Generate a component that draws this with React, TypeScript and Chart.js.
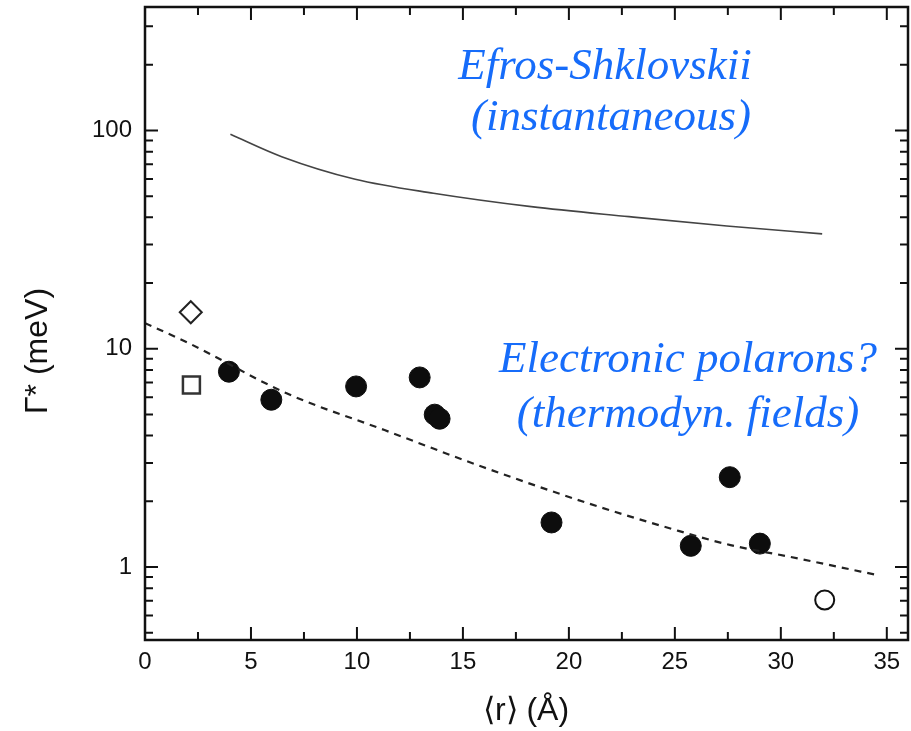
import React, { useEffect, useRef } from 'react';
import { Chart, registerables } from 'chart.js';

Chart.register(...registerables);

// Mean separation <r> (Å) and Γ* (meV)
const filledR = [3.96, 5.96, 9.96, 12.96, 13.67, 13.9, 19.18, 25.75, 27.59, 29.01];
const filledG = [7.85, 5.84, 6.72, 7.39, 4.99, 4.78, 1.6, 1.25, 2.58, 1.28];
const diamondR = [2.16];
const diamondG = [14.7];
const squareR = [2.19];
const squareG = [6.82];
const openR = [32.07];
const openG = [0.706];

// Efros-Shklovskii (instantaneous) estimate
const esR = [4.03, 6.45, 9.92, 13.61, 18.22, 22.84, 27.45, 31.95];
const esG = [96.1, 75.9, 59.8, 51.6, 44.8, 40.3, 36.5, 33.6];

// Electronic polaron (thermodynamic fields) estimate
const polR = [0, 2.07, 6.68, 11.3, 15.91, 20.9, 24.9, 27.63, 30.3, 32.33, 34.52];
const polG = [13.1, 10.6, 6.25, 4.24, 2.88, 1.96, 1.49, 1.26, 1.12, 1.02, 0.92];

// Axis ticks
const xMajorTicks = [0, 5, 10, 15, 20, 25, 30, 35];
const xMinorTicks = [2.5, 7.5, 12.5, 17.5, 22.5, 27.5, 32.5];
const yMajorTicks = [1, 10, 100];
const yMinorTicks = [0.5, 0.6, 0.7, 0.8, 0.9, 2, 3, 4, 5, 6, 7, 8, 9, 20, 30, 40, 50, 60, 70, 80, 90, 200, 300];

const X_MIN = 0;
const X_MAX = 36;
const Y_MIN = 0.463;
const Y_MAX = 368;

const BLUE = 'rgb(22,108,250)';
const SANS = '"Liberation Sans", Arial, Helvetica, sans-serif';
const SERIF = '"Liberation Serif", "Times New Roman", serif';

const pts = (xs: number[], ys: number[]) => xs.map((x, i) => ({ x, y: ys[i] }));

const noPad = (s: any) => {
  s.paddingLeft = 0;
  s.paddingRight = 0;
  s.paddingTop = 0;
  s.paddingBottom = 0;
};

const framePlugin = {
  id: 'frameAndLabels',
  afterDraw(chart: any) {
    const { ctx, chartArea } = chart;
    const { left, right, top, bottom } = chartArea;
    const xs = chart.scales.x;
    const ys = chart.scales.y;
    ctx.save();
    ctx.strokeStyle = '#111';
    ctx.lineWidth = 2.5;
    ctx.strokeRect(left, top, right - left, bottom - top);

    ctx.lineWidth = 2;
    const xTick = (v: number, len: number) => {
      const p = xs.getPixelForValue(v);
      ctx.beginPath();
      ctx.moveTo(p, bottom);
      ctx.lineTo(p, bottom - len);
      ctx.moveTo(p, top);
      ctx.lineTo(p, top + len);
      ctx.stroke();
    };
    const yTick = (v: number, len: number) => {
      const p = ys.getPixelForValue(v);
      ctx.beginPath();
      ctx.moveTo(left, p);
      ctx.lineTo(left + len, p);
      ctx.moveTo(right, p);
      ctx.lineTo(right - len, p);
      ctx.stroke();
    };
    xMajorTicks.forEach((v) => xTick(v, 13));
    xMinorTicks.forEach((v) => xTick(v, 8));
    yMajorTicks.forEach((v) => yTick(v, 13));
    yMinorTicks.forEach((v) => yTick(v, 8));

    // axis titles
    ctx.fillStyle = '#111';
    ctx.textAlign = 'center';
    ctx.textBaseline = 'middle';
    ctx.font = `32px ${SANS}`;
    ctx.fillText('\u27E8r\u27E9 (\u00C5)', 526, 711);
    ctx.save();
    ctx.translate(38, 351);
    ctx.rotate(-Math.PI / 2);
    ctx.fillText('\u0393* (meV)', 0, 0);
    ctx.restore();

    // annotations
    ctx.fillStyle = BLUE;
    ctx.textBaseline = 'alphabetic';
    ctx.font = `italic 45px ${SERIF}`;
    ctx.fillText('Efros-Shklovskii', 605, 79);
    ctx.fillText('(instantaneous)', 611, 130);
    ctx.fillText('Electronic polarons?', 688, 372);
    ctx.fillText('(thermodyn. fields)', 688, 427);
    ctx.restore();
  },
};

export default function App() {
  const ref = useRef<HTMLCanvasElement | null>(null);

  useEffect(() => {
    if (!ref.current) return;
    const chart = new Chart(ref.current, {
      type: 'scatter',
      data: {
        datasets: [
          {
            label: 'Efros-Shklovskii',
            data: pts(esR, esG),
            showLine: true,
            borderColor: '#444',
            borderWidth: 1.6,
            pointRadius: 0,
            cubicInterpolationMode: 'monotone',
          },
          {
            label: 'Electronic polarons',
            data: pts(polR, polG),
            showLine: true,
            borderColor: '#222',
            borderWidth: 2.2,
            borderDash: [7, 6],
            pointRadius: 0,
            cubicInterpolationMode: 'monotone',
          },
          {
            label: 'filled',
            data: pts(filledR, filledG),
            pointStyle: 'circle',
            pointRadius: 10.5,
            backgroundColor: '#0d0d0d',
            borderColor: '#0d0d0d',
            borderWidth: 1,
          },
          {
            label: 'diamond',
            data: pts(diamondR, diamondG),
            pointStyle: 'rectRot',
            pointRadius: 11,
            backgroundColor: 'rgba(0,0,0,0)',
            borderColor: '#222',
            borderWidth: 2,
          },
          {
            label: 'square',
            data: pts(squareR, squareG),
            pointStyle: 'rect',
            pointRadius: 12,
            backgroundColor: 'rgba(0,0,0,0)',
            borderColor: '#333',
            borderWidth: 2.5,
          },
          {
            label: 'open',
            data: pts(openR, openG),
            pointStyle: 'circle',
            pointRadius: 9.5,
            backgroundColor: 'rgba(0,0,0,0)',
            borderColor: '#111',
            borderWidth: 2,
          },
        ],
      },
      options: {
        responsive: false,
        animation: false,
        layout: { autoPadding: false, padding: { top: 7, right: 3, left: 0, bottom: 0 } },
        plugins: { legend: { display: false }, tooltip: { enabled: false } },
        scales: {
          x: {
            type: 'linear',
            min: X_MIN,
            max: X_MAX,
            grid: { display: false, drawTicks: false },
            border: { display: false },
            afterBuildTicks: (s: any) => {
              s.ticks = xMajorTicks.map((v) => ({ value: v }));
            },
            afterFit: (s: any) => {
              s.height = 91;
              noPad(s);
            },
            ticks: {
              padding: 8,
              color: '#111',
              font: { family: SANS, size: 24 },
              callback: (v: any) => String(v),
            },
          },
          y: {
            type: 'logarithmic',
            min: Y_MIN,
            max: Y_MAX,
            grid: { display: false, drawTicks: false },
            border: { display: false },
            afterBuildTicks: (s: any) => {
              s.ticks = yMajorTicks.map((v) => ({ value: v }));
            },
            afterFit: (s: any) => {
              s.width = 145;
              noPad(s);
            },
            ticks: {
              padding: 13,
              color: '#111',
              font: { family: SANS, size: 24 },
              callback: (v: any) => String(v),
            },
          },
        },
      },
      plugins: [framePlugin],
    } as any);
    return () => chart.destroy();
  }, []);

  return (
    <div style={{ position: 'fixed', left: 0, top: 0, width: 911, height: 731, background: '#fff' }}>
      <canvas ref={ref} width={911} height={731} style={{ display: 'block' }} />
    </div>
  );
}
